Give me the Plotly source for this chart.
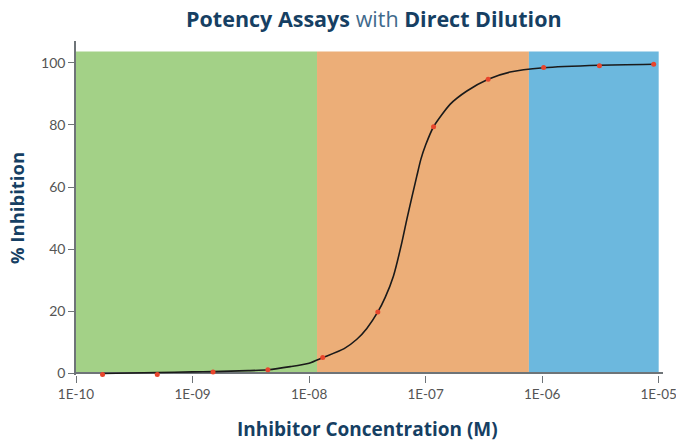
import plotly.graph_objects as go

# measured data points (concentration M, % inhibition)
conc = [1.69e-10, 4.98e-10, 1.5e-9, 4.43e-9, 1.31e-8, 3.89e-8, 1.17e-7, 3.44e-7, 1.03e-6, 3.1e-6, 9.06e-6]
inhib = [-0.3, -0.3, 0.5, 1.2, 5.1, 19.8, 79.4, 94.7, 98.5, 99.0, 99.5]

# fitted curve
fit_x = [1.69e-10, 5e-10, 1e-9, 1.5e-9, 3e-9, 4.43e-9, 6.9e-9, 1e-8, 1.31e-8, 2.0e-8, 2.57e-8,
         3.13e-8, 3.89e-8, 4.5e-8, 5.3e-8, 6.25e-8, 6.9e-8, 7.6e-8, 8.4e-8, 9.1e-8, 1.0e-7,
         1.17e-7, 1.62e-7, 2.26e-7, 3.44e-7, 5.3e-7, 1.03e-6, 3.1e-6, 9.06e-6]
fit_y = [0.0, 0.3, 0.5, 0.6, 0.9, 1.2, 2.2, 3.3, 5.1, 8.0, 11.0,
         14.5, 19.8, 24.5, 31.4, 42.1, 49.6, 56.5, 63.5, 68.9, 73.5,
         79.4, 86.6, 90.9, 94.7, 97.0, 98.4, 99.2, 99.5]

# background zones (start, end) in M
zone_starts = [1e-10, 1.17e-8, 7.7e-7]
zone_ends = [1.17e-8, 7.7e-7, 1e-5]
zone_colors = ["#a3d187", "#ecae78", "#6cb8de"]
zone_top = 103.6

tick_vals = [1e-10, 1e-9, 1e-8, 1e-7, 1e-6, 1e-5]
tick_text = ["1E-10", "1E-09", "1E-08", "1E-07", "1E-06", "1E-05"]
y_ticks = [0, 20, 40, 60, 80, 100]

navy = "#163f63"
axis_grey = "#6e7478"
fig = go.Figure()

for s, e, c in zip(zone_starts, zone_ends, zone_colors):
    fig.add_shape(type="rect", xref="x", yref="y", x0=s, x1=e, y0=0, y1=zone_top,
                  fillcolor=c, line_width=0, layer="below")

fig.add_trace(go.Scatter(x=fit_x, y=fit_y, mode="lines",
                         line=dict(color="#1a1a1a", width=1.6, shape="spline", smoothing=0.6),
                         hoverinfo="skip", showlegend=False, cliponaxis=False))
fig.add_trace(go.Scatter(x=conc, y=inhib, mode="markers", marker=dict(color="#e8452c", size=5),
                         showlegend=False, cliponaxis=False))

fig.update_layout(
    width=676, height=441,
    margin=dict(l=76, r=13, t=41, b=66),
    plot_bgcolor="white", paper_bgcolor="white",
    font=dict(family="Lato, Open Sans, sans-serif", color="#555"),
    title=dict(text="<b>Potency Assays</b> <span style='color:#3f6a8c'>with</span> <b>Direct Dilution</b>",
               x=0.553, xanchor="center", y=0.955, yanchor="middle",
               font=dict(family="Open Sans", size=21.5, color=navy)),
)
fig.add_annotation(text="<b>Inhibitor Concentration (M)</b>", xref="paper", yref="paper",
                   x=0.497, y=-0.162, xanchor="center", yanchor="middle", showarrow=False,
                   font=dict(family="Open Sans", size=19, color=navy))
fig.update_xaxes(type="log", range=[-10, -4.963], tickvals=tick_vals, ticktext=tick_text,
                 showgrid=False, zeroline=False, showline=False,
                 ticks="outside", ticklen=7, tickcolor=axis_grey, tickwidth=1,
                 tickfont=dict(family="Lato", size=13.5, color="#555"),
                 ticklabeloverflow="allow", automargin=False, layer="below traces")
fig.update_yaxes(range=[-0.5, 107.0], tickvals=y_ticks, showgrid=False,
                 zeroline=True, zerolinecolor=axis_grey, zerolinewidth=2,
                 showline=True, linecolor=axis_grey, linewidth=1.5,
                 ticks="outside", ticklen=6, tickcolor=axis_grey, tickwidth=1,
                 tickfont=dict(family="Lato", size=14, color="#555"),
                 automargin=False, layer="below traces",
                 title=dict(text="<b>% Inhibition</b>", standoff=12,
                            font=dict(family="Open Sans", size=18.5, color=navy)))

fig.write_html("out.html", config={"displayModeBar": False},
               post_script="document.body.style.margin='0';")
